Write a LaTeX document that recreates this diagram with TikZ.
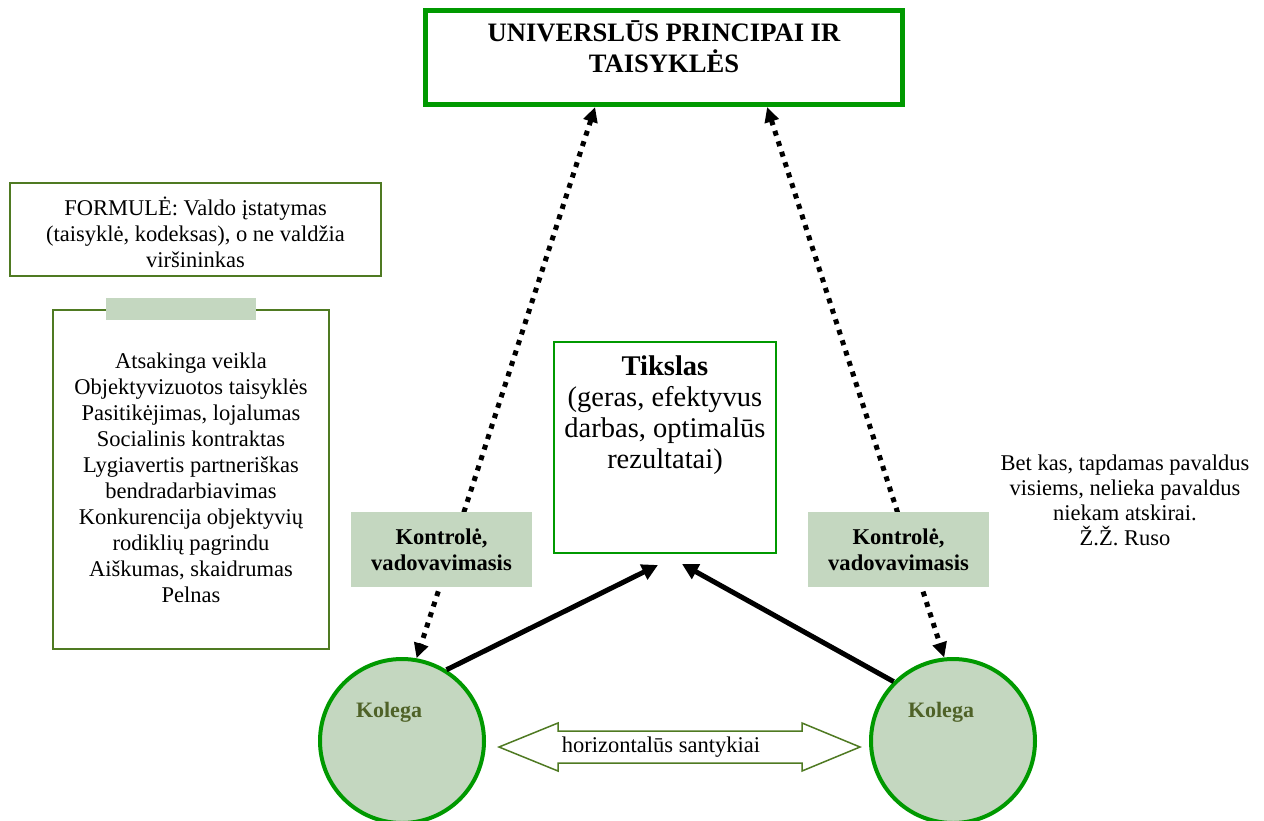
\documentclass[tikz,border=0pt]{standalone}
\usepackage{fontspec}
\setmainfont{Liberation Serif}
\usetikzlibrary{arrows.meta,calc}
\pgfdeclarelayer{back}
\pgfsetlayers{back,main}
\definecolor{brightgreen}{RGB}{0,153,0}
\definecolor{framegreen}{RGB}{79,122,34}
\definecolor{sage}{RGB}{196,215,192}
\definecolor{kolegatext}{RGB}{79,98,40}
\newcommand\setfs[2]{\fontsize{#1}{#2}\selectfont}
\begin{document}
\begin{tikzpicture}[x=1pt,y=-1pt,
  txt/.style={align=center, inner sep=0pt, font=\setfs{22.5}{26}},
  thinframe/.style={draw=framegreen, line width=2},
  ctrlbox/.style={fill=sage, minimum width=181, minimum height=75, inner sep=0pt,
    align=center, font=\bfseries\setfs{22.6}{26}},
  colleague/.style={circle, draw=brightgreen, line width=4, fill=sage, minimum size=164, inner sep=0pt},
  colleaguename/.style={inner sep=0pt, text=kolegatext, font=\bfseries\setfs{22}{26}},
  dotarrow/.style={line width=5, dash pattern=on 5pt off 6pt,
    {Triangle[length=15pt,width=14pt]}-{Triangle[length=15pt,width=14pt]}},
  solidarrow/.style={line width=5, -{Triangle[length=16pt,width=16pt]}}
]
\useasboundingbox (0,0) rectangle (1264,820);

% title box
\node[draw=brightgreen, line width=5, minimum width=477, minimum height=94, inner sep=0pt] (principles) at (664,57.5) {};
\node[txt, font=\bfseries\setfs{26.6}{30.6}] (title) at (664,47) {UNIVERSLŪS PRINCIPAI IR\\TAISYKLĖS};

% formula box
\node[thinframe, minimum width=371, minimum height=93, inner sep=0pt] (formula) at (195.5,229.5) {};
\node[txt] (formulatext) at (195.5,232.5) {FORMULĖ: Valdo įstatymas\\(taisyklė, kodeksas), o ne valdžia\\viršininkas};

% list of values
\node[thinframe, minimum width=276, minimum height=339, inner sep=0pt] (values) at (191,479.5) {};
\node[fill=sage, minimum width=150, minimum height=22, inner sep=0pt] (tab) at (181,309) {};
\node[txt] (valuestext) at (191,477.5) {Atsakinga veikla\\Objektyvizuotos taisyklės\\Pasitikėjimas, lojalumas\\Socialinis kontraktas\\Lygiavertis partneriškas\\bendradarbiavimas\\Konkurencija objektyvių\\rodiklių pagrindu\\Aiškumas, skaidrumas\\Pelnas};

% goal
\node[draw=brightgreen, line width=2, minimum width=222, minimum height=211, inner sep=0pt] (goal) at (665,447.5) {};
\node[txt, font=\setfs{28.5}{31}] (goaltext) at (665,415) {\textbf{Tikslas}\\(geras, efektyvus\\darbas, optimalūs\\rezultatai)};

% quote
\node[txt, font=\setfs{22.5}{25}] (quote) at (1125,500.5) {Bet kas, tapdamas pavaldus\\visiems, nelieka pavaldus\\niekam atskirai.\\Ž.Ž. Ruso};

% control labels
\node[ctrlbox] (ctrlL) at (441.5,549.5) {Kontrolė,\\vadovavimasis};
\node[ctrlbox] (ctrlR) at (898.5,549.5) {Kontrolė,\\vadovavimasis};

% colleagues
\node[colleague] (colL) at (402,741) {};
\node[colleague] (colR) at (953,741) {};
\node[colleaguename] (kolegaL) at (389,712) {Kolega};
\node[colleaguename] (kolegaR) at (941,712) {Kolega};

% horizontal relations arrow
\coordinate (hc) at (679.5,747);
\draw[framegreen, line width=1.5, fill=white] (hc) ++(-180.5,0) -- ++(59,-24) -- ++(0,8) -- ++(244,0) -- ++(0,-8)
  -- ++(58,24) -- ++(-58,24) -- ++(0,-8) -- ++(-244,0) -- ++(0,8) -- cycle;
\node[txt] (hrel) at (661,747) {horizontalūs santykiai};

% control links, behind the control labels
\begin{pgfonlayer}{back}
\draw[dotarrow] ($(principles.south west)!0.357!(principles.south east)$) -- (colL.80);
\draw[dotarrow] ($(principles.south west)!0.714!(principles.south east)$) -- (colR.96);
\end{pgfonlayer}

% links to the goal
\draw[solidarrow] (colL.58) -- ($(goal.south)+(-7,11)$);
\draw[solidarrow] (colR.135) -- ($(goal.south)+(17,10)$);
\end{tikzpicture}
\end{document}
